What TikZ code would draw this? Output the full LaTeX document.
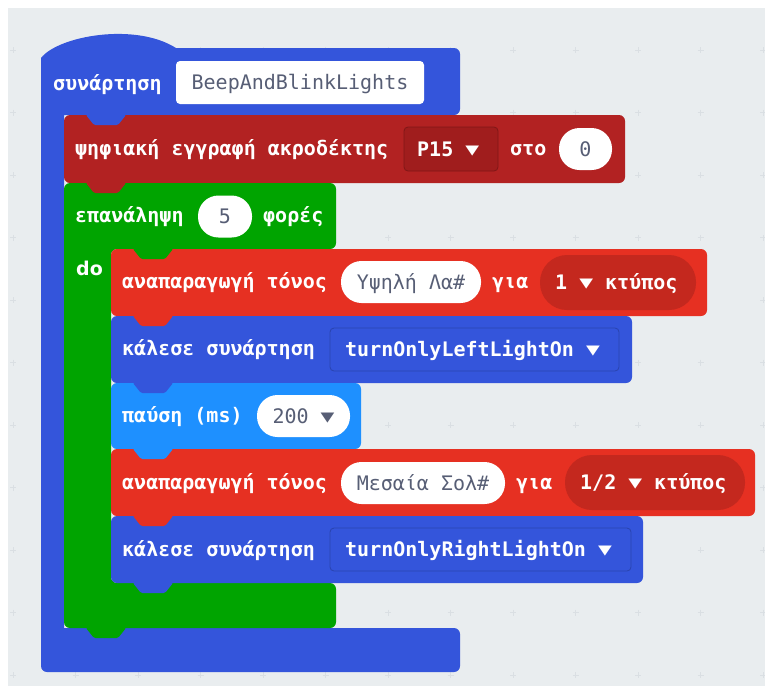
\documentclass[tikz,border=0pt]{standalone}
\usepackage{fontspec}
\setmonofont{DejaVu Sans Mono}
\newfontfamily\dosans{DejaVu Sans}
\newcommand{\dda}{{\fontsize{17}{17}\selectfont\raisebox{1pt}{\scalebox{1.35}[1.0]{▼}}}}
\definecolor{bg}{HTML}{E9EDEF}
\definecolor{gridc}{HTML}{DADFE3}
\definecolor{funcblue}{HTML}{3455DB}
\definecolor{pinred}{HTML}{B22222}
\definecolor{pindark}{HTML}{A01D1D}
\definecolor{loopgreen}{HTML}{00A400}
\definecolor{musicred}{HTML}{E63022}
\definecolor{musicdark}{HTML}{C4281E}
\definecolor{basicblue}{HTML}{1E90FF}
\definecolor{fieldgray}{HTML}{575E75}
\begin{document}
\begin{tikzpicture}[x=1pt,y=-1pt,
  lbl/.style={text=white,font=\fontsize{20}{24}\selectfont\ttfamily\bfseries,anchor=base west,inner sep=0pt},
  pillbox/.style={fill=white,rounded corners=20.5pt,minimum height=42pt,inner sep=0pt,text=fieldgray,
     font=\fontsize{20}{24}\selectfont\ttfamily,text height=15pt,text depth=1pt},
  darkpill/.style={fill=#1,rounded corners=27pt,minimum height=55pt,inner sep=0pt},
  dropbox/.style={fill=#1,draw=#1!80!black,line width=0.8pt,rounded corners=4pt},
  tab/.style={fill=#1,rounded corners=1.5pt},
  gridplus/.style={draw=gridc,line width=1pt}
]
\useasboundingbox (0,0) rectangle (765,686);
\fill[bg] (8,8) rectangle (765,686);
% grid
\foreach \i in {0,...,12}{\foreach \j in {0,...,10}{
  \draw[gridplus] ({13+62.5*\i-3},{50+62.5*\j}) -- ({13+62.5*\i+3},{50+62.5*\j})
                  ({13+62.5*\i},{50+62.5*\j-3}) -- ({13+62.5*\i},{50+62.5*\j+3});
}}
% function block
\fill[funcblue] (41,666) -- (41,58) .. controls (58,36) and (135,22) .. (176,48)
  -- (454,48) arc[start angle=-90,end angle=0,radius=6] -- (460,109) arc[start angle=0,end angle=90,radius=6]
  -- (64,115) -- (64,628) -- (454,628) arc[start angle=-90,end angle=0,radius=6] -- (460,666)
  arc[start angle=0,end angle=90,radius=6] -- (47,672) arc[start angle=90,end angle=180,radius=6] -- cycle;
\node[lbl] (fn) at (53,90) {συνάρτηση};
\node[fill=white,rounded corners=4pt,minimum width=248pt,minimum height=43pt,inner sep=0pt,
  text=fieldgray,font=\fontsize{20}{24}\selectfont\ttfamily,text height=15pt,text depth=1pt] (fname) at (300,82.5) {BeepAndBlinkLights};
% pin block
\fill[pinred,rounded corners=6pt] (64,115) rectangle (625,183);
\node[lbl] (pw) at (75,155) {ψηφιακή εγγραφή ακροδέκτης};
\fill[dropbox=pindark] (404,127) rectangle (498,171);
\node[lbl] (pin) at (417,156) {P15 \dda};
\node[lbl] (sto) at (510,155) {στο};
\node[pillbox,minimum width=53pt] (zero) at (585.5,149) {0};
% loop block
\fill[loopgreen,rounded corners=6pt] (64,183) -- (336,183) -- (336,249) -- (111,249) -- (111,583)
  -- (336,583) -- (336,628) -- (64,628) -- cycle;
\node[lbl] (rep) at (75,222) {επανάληψη};
\node[pillbox,minimum width=54pt] (five) at (225,216.5) {5};
\node[lbl] (times) at (263,222) {φορές};
\node[lbl,font=\fontsize{19}{24}\selectfont\dosans\bfseries] (do) at (76,275) {do};
% tone 1
\fill[musicred,rounded corners=6pt] (111,249) rectangle (707,316);
\node[lbl] (tone1) at (122,288) {αναπαραγωγή τόνος};
\node[pillbox,minimum width=140pt] (note1) at (411,282) {Υψηλή Λα\#};
\node[lbl] (gia1) at (492,288) {για};
\node[darkpill=musicdark,minimum width=156pt] (beat1) at (618,282.5) {};
\node[lbl] (beat1t) at (555,289) {1 \dda{} κτύπος};
% call 1
\fill[funcblue,rounded corners=6pt] (111,316) rectangle (632,383);
\node[lbl] (call1) at (122,355) {κάλεσε συνάρτηση};
\fill[dropbox=funcblue] (330,328) rectangle (619,371);
\node[lbl] (f1) at (345,356) {turnOnlyLeftLightOn \dda};
% pause
\fill[basicblue,rounded corners=6pt] (111,383) rectangle (361,449);
\node[lbl] (pause) at (122,422) {παύση (ms)};
\node[pillbox,minimum width=93pt] (ms) at (303.5,416) {200 \dda};
% tone 2
\fill[musicred,rounded corners=6pt] (111,449) rectangle (755,516);
\node[lbl] (tone2) at (122,489) {αναπαραγωγή τόνος};
\node[pillbox,minimum width=164pt] (note2) at (423,483) {Μεσαία Σολ\#};
\node[lbl] (gia2) at (516,489) {για};
\node[darkpill=musicdark,minimum width=180pt] (beat2) at (655,482.5) {};
\node[lbl] (beat2t) at (580,489) {1/2 \dda{} κτύπος};
% call 2
\fill[funcblue,rounded corners=6pt] (111,516) rectangle (643,583);
\node[lbl] (call2) at (122,556) {κάλεσε συνάρτηση};
\fill[dropbox=funcblue] (330,528) rectangle (631,571);
\node[lbl] (f2) at (345,556) {turnOnlyRightLightOn \dda};
% tabs (connector notches)
\foreach \x/\y/\c in {86/115/funcblue, 86/183/pinred, 86/628/loopgreen,
   133/249/loopgreen, 133/316/musicred, 133/383/funcblue, 133/449/basicblue, 133/516/musicred, 133/583/funcblue}{
  \fill[tab=\c] (\x,\y-2) -- (\x,\y) -- (\x+8,\y+10) -- (\x+32,\y+10) -- (\x+40,\y) -- (\x+40,\y-2) -- cycle;
}
\end{tikzpicture}
\end{document}
